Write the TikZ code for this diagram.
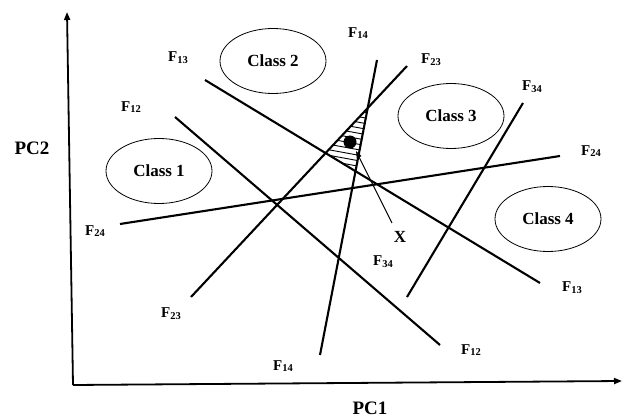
\documentclass[tikz,border=0pt]{standalone}
\usepackage{fontspec}
\setmainfont{Liberation Serif}
\usetikzlibrary{arrows.meta,shapes.geometric}
\newcommand\Flab[1]{F\kern0.3pt\raisebox{-1.8pt}{\fontsize{10.5}{11}\selectfont #1}}
\tikzset{
  fline/.style={line width=2.1pt},
  axisline/.style={line width=1.8pt,-{Triangle[length=8pt,width=6pt]}},
  flabel/.style={font=\bfseries\fontsize{15}{16}\selectfont,inner sep=0pt},
  cls/.style={ellipse,draw,line width=0.8pt,minimum width=106pt,minimum height=65pt,inner sep=0pt,font=\bfseries\fontsize{17}{18}\selectfont},
  pclabel/.style={font=\bfseries\fontsize{19}{20}\selectfont,inner sep=0pt},
  hatchline/.style={line width=0.9pt}
}
\begin{document}
\begin{tikzpicture}[x=1pt,y=-1pt]
\useasboundingbox (0,0) rectangle (622,417);
% axes
\coordinate (o) at (73,385);
\coordinate (ytip) at (67,12);
\coordinate (xtip) at (622,381);
\draw[axisline] (o) -- (ytip);
\draw[axisline] (o) -- (xtip);
\node[pclabel] (pc2) at (32,148) {PC2};
\node[pclabel] (pc1) at (370,408) {PC1};
% line end points
\coordinate (a12) at (175,117); \coordinate (b12) at (440,345);
\coordinate (a13) at (205,80);  \coordinate (b13) at (540,283);
\coordinate (a14) at (377,60);  \coordinate (b14) at (320,355);
\coordinate (a23) at (407,66);  \coordinate (b23) at (191,297);
\coordinate (a24) at (120,224); \coordinate (b24) at (560,156);
\coordinate (a34) at (523,103); \coordinate (b34) at (407,297);
% hatched region
\coordinate (p1) at (intersection of a23--b23 and a14--b14);
\coordinate (p2) at (intersection of a23--b23 and a13--b13);
\coordinate (p3) at (intersection of a13--b13 and a14--b14);
\begin{scope}
  \clip (p1) -- (p2) -- (p3) -- cycle;
  \foreach \yy in {40,45.5,...,200} {
    \draw[hatchline] (300,\yy) -- (420,\yy+22);
  }
\end{scope}
% lines
\draw[fline] (a12) -- (b12);
\draw[fline] (a13) -- (b13);
\draw[fline] (a14) -- (b14);
\draw[fline] (a23) -- (b23);
\draw[fline] (a24) -- (b24);
\draw[fline] (a34) -- (b34);
% ellipses
\node[cls] (c1) at (159,171) {Class 1};
\node[cls] (c2) at (273,61) {Class 2};
\node[cls] (c3) at (451,116) {Class 3};
\node[cls] (c4) at (548,219) {Class 4};
% labels
\node[flabel] (l13a) at (178,58) {\Flab{13}};
\node[flabel] (l12a) at (131,107) {\Flab{12}};
\node[flabel] (l14a) at (358,33) {\Flab{14}};
\node[flabel] (l23a) at (431,60) {\Flab{23}};
\node[flabel] (l34a) at (532,87) {\Flab{34}};
\node[flabel] (l24a) at (591,151) {\Flab{24}};
\node[flabel] (l24b) at (95,231) {\Flab{24}};
\node[flabel] (l23b) at (171,314) {\Flab{23}};
\node[flabel] (l14b) at (283,366) {\Flab{14}};
\node[flabel] (l12b) at (471,350) {\Flab{12}};
\node[flabel] (l13b) at (572,288) {\Flab{13}};
\node[flabel] (l34b) at (383,262) {\Flab{34}};
% point X
\fill (350,142) circle (6.5pt) coordinate (dot);
\node[font=\bfseries\fontsize{17}{18}\selectfont,inner sep=1pt] (xl) at (400,237) {X};
\coordinate (xs) at (392,223);
\coordinate (xe) at (356,151);
\draw[line width=1pt,-{Triangle[length=7pt,width=5pt]}] (xs) -- (xe);
\end{tikzpicture}
\end{document}
